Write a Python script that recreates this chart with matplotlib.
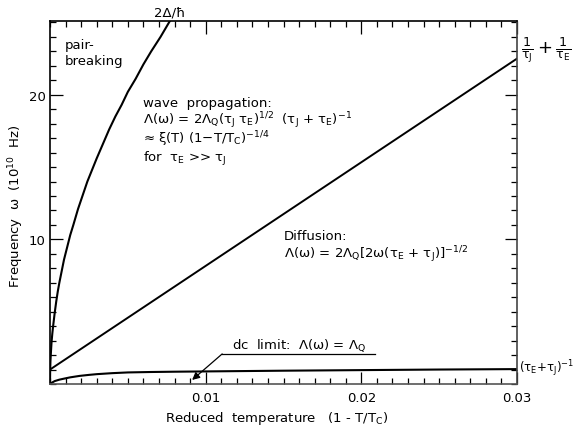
import matplotlib
matplotlib.use("Agg")
import matplotlib.pyplot as plt
import numpy as np

# fonts - upright greek everywhere like the original lettering
plt.rcParams['font.family'] = ['DejaVu Sans']
plt.rcParams['mathtext.fontset'] = 'custom'
plt.rcParams['mathtext.rm'] = 'DejaVu Sans'
plt.rcParams['mathtext.it'] = 'DejaVu Sans'
plt.rcParams['mathtext.bf'] = 'DejaVu Sans:bold'

# pair breaking curve 2 Delta / hbar
gap_t = [0, 0.00001, 0.00003, 0.00006, 0.0001, 0.00015, 0.0002, 0.0003,
         0.0004, 0.0005, 0.0006, 0.00075, 0.0009, 0.0011, 0.0013, 0.0015,
         0.0018, 0.0021, 0.0024, 0.0027, 0.003, 0.0034, 0.0038, 0.0042,
         0.0046, 0.005, 0.0055, 0.006, 0.0065, 0.0071, 0.0077]
gap_w = [0, 0.9, 1.6, 2.2, 2.9, 3.5, 4.0, 4.9,
         5.7, 6.4, 7.0, 7.8, 8.6, 9.45, 10.3, 11.0,
         12.1, 13.05, 14.0, 14.8, 15.6, 16.6, 17.6, 18.5,
         19.3, 20.2, 21.1, 22.1, 23.0, 24.0, 25.1]

# 1/tau_J + 1/tau_E  straight line
diff_t = [0, 0.03]
diff_w = [1.0, 22.5]

# (tau_E + tau_J)^-1  dc limit curve
dc_t = [0, 0.0001, 0.0003, 0.0006, 0.0009, 0.0013, 0.0019, 0.0025, 0.003,
        0.004, 0.005, 0.0065, 0.008, 0.01, 0.015, 0.02, 0.025, 0.03]
dc_w = [0, 0.08, 0.2, 0.3, 0.37, 0.46, 0.56, 0.63, 0.68,
        0.75, 0.8, 0.83, 0.85, 0.87, 0.92, 0.96, 1.0, 1.03]

x_major = [0.01, 0.02, 0.03]
x_labels = ["0.01", "0.02", "0.03"]
y_major = [10, 20]
y_labels = ["10", "20"]

fs = 9.5

fig = plt.figure(figsize=(5.77, 4.31), dpi=100)
ax = fig.add_axes([50/577, 1-385/431, 467/577, 363/431])

ax.plot(gap_t, gap_w, color='black', lw=1.5)
ax.plot(diff_t, diff_w, color='black', lw=1.4)
ax.plot(dc_t, dc_w, color='black', lw=1.5)

ax.set_xlim(0, 0.03)
ax.set_ylim(0, 25.1)

# ticks all round, pointing in
ax.set_xticks(x_major)
ax.set_xticklabels(x_labels)
ax.set_yticks(y_major)
ax.set_yticklabels(y_labels)
ax.set_xticks(np.arange(0, 0.0301, 0.001), minor=True)
ax.set_yticks(np.arange(0, 26, 1), minor=True)
ax.tick_params(which='both', direction='in', top=True, right=True,
               width=0.9, labelsize=fs)
ax.tick_params(which='major', length=9)
ax.tick_params(axis='x', which='major', pad=5)
ax.tick_params(axis='y', which='major', pad=3)
ax.tick_params(which='minor', length=4)
for s in ax.spines.values():
    s.set_linewidth(1.2)
ax.spines['bottom'].set_color('#555555')
ax.spines['right'].set_color('#444444')

# text inside the plot
ax.text(0.00096, 23.2, "pair-", fontsize=fs, va='baseline')
ax.text(0.00096, 22.15, "breaking", fontsize=fs, va='baseline')

ax.text(0.006, 19.24, "wave  propagation:", fontsize=fs, va='baseline')
ax.text(0.006, 18.0,
        r"Λ(ω) = 2Λ$_\mathrm{Q}$(τ$_\mathrm{J}$ τ$_\mathrm{E}$)$^{1/2}$  (τ$_\mathrm{J}$ + τ$_\mathrm{E}$)$^{-1}$",
        fontsize=fs, va='baseline')
ax.text(0.006, 16.68, r"≈ ξ(T) (1−T/T$_\mathrm{C}$)$^{-1/4}$",
        fontsize=fs, va='baseline')
ax.text(0.006, 15.43, r"for  τ$_\mathrm{E}$ >> τ$_\mathrm{J}$",
        fontsize=fs, va='baseline')

ax.text(0.015, 10.03, "Diffusion:", fontsize=fs, va='baseline')
ax.text(0.015, 8.79,
        r"Λ(ω) = 2Λ$_\mathrm{Q}$[2ω(τ$_\mathrm{E}$ + τ$_\mathrm{J}$)]$^{-1/2}$",
        fontsize=fs, va='baseline')

# dc limit label with underline and arrow
ax.text(0.0117, 2.47, r"dc  limit:  Λ(ω) = Λ$_\mathrm{Q}$", fontsize=fs,
        va='baseline')
ax.plot([0.01106, 0.0209], [2.08, 2.08], color='black', lw=0.9)
ax.annotate("", xy=(0.00913, 0.28), xytext=(0.01106, 2.08),
            arrowprops=dict(arrowstyle='-|>', color='black', lw=0.9,
                            mutation_scale=11, shrinkA=0, shrinkB=0))

# labels outside the axes
fig.text(170/577, 1-13/431, "2Δ/ħ", fontsize=fs, ha='center', va='center')
fig.text(521/577, 1-50/431,
         r"$\frac{1}{\tau_\mathrm{J}}+\frac{1}{\tau_\mathrm{E}}$",
         fontsize=13, ha='left', va='center')
fig.text(519/577, 1-369/431, r"(τ$_\mathrm{E}$+τ$_\mathrm{J}$)$^{-1}$",
         fontsize=8.5, ha='left', va='center')

fig.text(16/577, 1-206/431, r"Frequency  ω  (10$^{10}$  Hz)", fontsize=fs,
         rotation=90, ha='center', va='center')
fig.text(277/577, 1-419/431, r"Reduced  temperature   (1 - T/T$_\mathrm{C}$)",
         fontsize=fs, ha='center', va='center')

fig.savefig("out.png", dpi=100)
